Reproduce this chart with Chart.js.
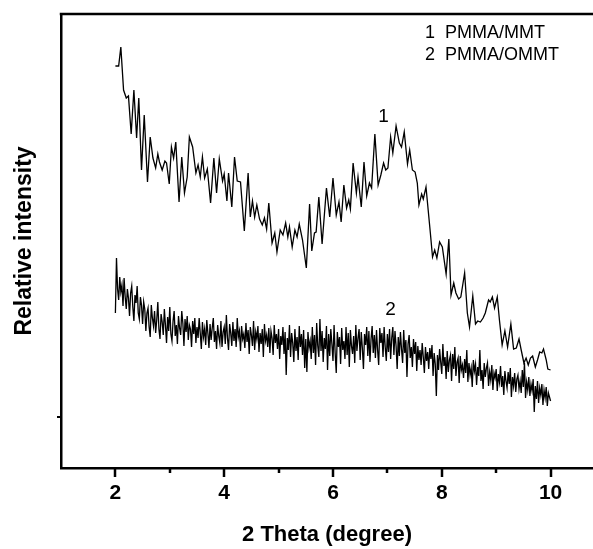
<!DOCTYPE html>
<html>
<head>
<meta charset="utf-8">
<title>XRD PMMA/MMT</title>
<script src="https://cdn.jsdelivr.net/npm/chart.js@4.4.1/dist/chart.umd.min.js"></script>
<style>
  html, body { margin: 0; padding: 0; background: #fff; }
  #wrap { width: 593px; height: 549px; }
</style>
</head>
<body>
<div id="wrap"><canvas id="xrdChart" width="593" height="549"></canvas></div>
<script>
// curve 1 : PMMA/MMT (2 theta, a.u.)
const mmtTheta = [
  2.00, 2.06, 2.10, 2.15, 2.20, 2.24, 2.29, 2.34, 2.39, 2.43, 2.48, 2.53, 2.59, 2.64, 2.69, 2.74, 2.78, 2.81, 2.86, 2.91,
  2.94, 2.99, 3.03, 3.07, 3.11, 3.17, 3.22, 3.27, 3.32, 3.36, 3.42, 3.48, 3.52, 3.56, 3.60, 3.64, 3.69, 3.75, 3.81, 3.86,
  3.91, 3.97, 4.00, 4.05, 4.08, 4.14, 4.19, 4.24, 4.30, 4.37, 4.44, 4.48, 4.52, 4.56, 4.60, 4.65, 4.70, 4.74, 4.78, 4.82,
  4.88, 4.93, 4.97, 5.03, 5.08, 5.13, 5.17, 5.20, 5.25, 5.30, 5.34, 5.38, 5.44, 5.51, 5.57, 5.61, 5.66, 5.69, 5.74, 5.80,
  5.88, 5.94, 6.00, 6.06, 6.11, 6.15, 6.20, 6.25, 6.29, 6.32, 6.37, 6.43, 6.46, 6.52, 6.57, 6.62, 6.67, 6.71, 6.77, 6.83,
  6.88, 6.93, 6.97, 7.01, 7.06, 7.10, 7.16, 7.22, 7.26, 7.31, 7.37, 7.41, 7.46, 7.51, 7.55, 7.58, 7.63, 7.66, 7.71, 7.75,
  7.79, 7.83, 7.87, 7.91, 7.96, 8.01, 8.08, 8.13, 8.17, 8.22, 8.26, 8.31, 8.35, 8.42, 8.47, 8.51, 8.57, 8.62, 8.66, 8.71,
  8.76, 8.80, 8.86, 8.89, 8.93, 8.97, 9.02, 9.06, 9.11, 9.16, 9.21, 9.27, 9.32, 9.37, 9.42, 9.46, 9.51, 9.55, 9.59, 9.63,
  9.67, 9.72, 9.76, 9.80, 9.84, 9.87, 9.92, 9.95, 10.00
];
const mmtIntensity = [
  351, 351, 370, 327, 319, 321, 283, 327, 279, 319, 247, 302, 235, 280, 259, 249, 263, 255, 247, 256,
  254, 233, 270, 259, 275, 215, 260, 224, 240, 280, 270, 244, 252, 240, 260, 239, 248, 214, 259, 224,
  258, 236, 243, 216, 244, 210, 260, 236, 235, 186, 244, 200, 216, 200, 212, 198, 192, 199, 188, 214,
  174, 184, 165, 187, 182, 194, 180, 190, 170, 187, 180, 193, 177, 149, 213, 166, 184, 185, 220, 173,
  229, 200, 239, 202, 215, 195, 232, 209, 217, 208, 254, 224, 240, 210, 255, 221, 234, 229, 283, 232,
  242, 254, 247, 249, 280, 264, 291, 274, 270, 285, 253, 267, 247, 245, 234, 212, 223, 218, 230, 207,
  184, 160, 167, 159, 175, 170, 143, 178, 122, 134, 124, 118, 120, 144, 104, 90, 121, 93, 96, 95,
  99, 104, 117, 115, 120, 109, 120, 97, 72, 86, 70, 93, 68, 69, 78, 67, 54, 59, 52, 59,
  61, 50, 57, 65, 64, 68, 57, 48, 47
];

// curve 2 : PMMA/OMMT, scan from 2 to 10 deg, step 0.02 deg
const ommtStart = 2;
const ommtStep = 0.02;
const ommtIntensity = [
  104, 159, 128, 117, 140, 125, 132, 111, 139, 120,
  108, 128, 119, 101, 124, 131, 110, 96, 122, 114,
  131, 104, 98, 120, 112, 93, 115, 108, 86, 104,
  109, 90, 80, 112, 99, 91, 106, 84, 97, 115,
  88, 78, 103, 95, 82, 108, 92, 74, 100, 86,
  110, 83, 76, 96, 106, 81, 92, 73, 101, 89,
  82, 106, 94, 71, 98, 85, 101, 77, 92, 88,
  70, 96, 83, 99, 74, 90, 79, 99, 84, 68,
  95, 80, 88, 72, 97, 84, 69, 93, 77, 89,
  99, 75, 86, 68, 92, 81, 74, 96, 70, 85,
  90, 73, 102, 79, 67, 93, 84, 71, 95, 76,
  88, 70, 99, 80, 86, 66, 91, 78, 83, 69,
  94, 75, 87, 63, 90, 82, 71, 96, 67, 85,
  78, 91, 65, 84, 73, 88, 60, 93, 76, 82,
  70, 89, 64, 86, 79, 62, 92, 74, 83, 68,
  88, 58, 81, 72, 90, 63, 85, 42, 79, 67,
  92, 60, 84, 74, 55, 88, 66, 80, 57, 91,
  70, 83, 62, 87, 49, 78, 45, 85, 69, 76,
  58, 90, 64, 82, 52, 94, 71, 60, 98, 66,
  86, 55, 79, 68, 91, 47, 83, 61, 88, 73,
  56, 92, 64, 44, 85, 70, 80, 53, 89, 67,
  76, 58, 90, 62, 84, 50, 87, 71, 63, 81,
  54, 92, 66, 79, 88, 57, 85, 69, 48, 83,
  72, 90, 61, 86, 55, 78, 91, 64, 82, 59,
  87, 67, 52, 89, 74, 84, 60, 90, 70, 56,
  83, 65, 88, 58, 79, 90, 62, 86, 71, 48,
  80, 61, 85, 68, 54, 87, 64, 77, 40, 73,
  82, 59, 70, 50, 78, 63, 75, 46, 71, 57,
  67, 52, 74, 60, 44, 70, 56, 65, 48, 69,
  58, 72, 41, 64, 53, 21, 62, 47, 68, 55,
  43, 73, 51, 60, 38, 66, 45, 57, 62, 36,
  63, 48, 70, 41, 55, 59, 34, 61, 47, 52,
  39, 58, 44, 67, 35, 54, 42, 49, 30, 57,
  46, 53, 32, 50, 41, 67, 36, 47, 28, 54,
  40, 49, 54, 31, 45, 37, 52, 27, 44, 39,
  48, 26, 43, 35, 51, 30, 41, 22, 46, 36,
  29, 45, 33, 49, 20, 40, 31, 44, 25, 38,
  42, 28, 36, 24, 47, 30, 54, 19, 35, 27,
  40, 21, 33, 26, 38, 5, 31, 18, 36, 14,
  29, 22, 33, 12, 27, 19, 30, 11, 24, 20,
  16
];

const xTickLabels = [2, 4, 6, 8, 10];
const xMinorTicks = [3, 5, 7, 9];
const yTicks = [0];
const legendLines = ["1  PMMA/MMT", "2  PMMA/OMMT"];
const curveTags = [
  { text: "1", x: 6.93, y: 300 },
  { text: "2", x: 7.06, y: 107 }
];

const FONT = "'Liberation Sans', Arial, sans-serif";

const mmtPoints = mmtTheta.map((t, i) => ({ x: t, y: mmtIntensity[i] }));
const ommtPoints = ommtIntensity.map((v, i) => ({ x: +(ommtStart + i * ommtStep).toFixed(2), y: v }));

// frame top line, tick marks, legend text and curve numbers
const decor = {
  id: 'decor',
  afterDraw(chart) {
    const { ctx, chartArea: a, scales } = chart;
    const x = scales.x, y = scales.y;
    ctx.save();
    ctx.strokeStyle = '#000';
    ctx.lineWidth = 2.5;
    ctx.beginPath();
    ctx.moveTo(a.left - 1.25, a.top);
    ctx.lineTo(a.right, a.top);
    ctx.stroke();

    xTickLabels.forEach(v => {
      const px = Math.round(x.getPixelForValue(v));
      ctx.beginPath(); ctx.moveTo(px, a.bottom); ctx.lineTo(px, a.bottom + 9); ctx.stroke();
    });
    xMinorTicks.forEach(v => {
      const px = Math.round(x.getPixelForValue(v));
      ctx.beginPath(); ctx.moveTo(px, a.bottom); ctx.lineTo(px, a.bottom + 5); ctx.stroke();
    });
    ctx.lineWidth = 2;
    yTicks.forEach(v => {
      const py = Math.round(y.getPixelForValue(v));
      ctx.beginPath(); ctx.moveTo(a.left, py); ctx.lineTo(a.left - 4, py); ctx.stroke();
    });

    ctx.fillStyle = '#000';
    ctx.textBaseline = 'middle';
    ctx.textAlign = 'left';
    ctx.font = "18px " + FONT;
    legendLines.forEach((t, i) => {
      ctx.fillText(t, a.left + 364, a.top + 19 + i * 22);
    });
    ctx.textAlign = 'center';
    ctx.font = "19px " + FONT;
    curveTags.forEach(c => {
      ctx.fillText(c.text, x.getPixelForValue(c.x), y.getPixelForValue(c.y));
    });
    ctx.restore();
  }
};

new Chart(document.getElementById('xrdChart').getContext('2d'), {
  type: 'line',
  data: {
    datasets: [
      { label: 'PMMA/MMT', data: mmtPoints, borderColor: '#000', borderWidth: 1.3, pointRadius: 0, tension: 0, fill: false },
      { label: 'PMMA/OMMT', data: ommtPoints, borderColor: '#000', borderWidth: 1.3, pointRadius: 0, tension: 0, fill: false }
    ]
  },
  options: {
    responsive: false,
    animation: false,
    devicePixelRatio: 1,
    layout: { padding: { top: 14, left: 0, right: 0, bottom: 0 } },
    plugins: { legend: { display: false }, tooltip: { enabled: false } },
    scales: {
      x: {
        type: 'linear',
        min: 1,
        max: 10.78,
        grid: { display: false, drawTicks: false },
        border: { display: true, color: '#000', width: 2.5 },
        afterBuildTicks: s => { s.ticks = xTickLabels.map(v => ({ value: v })); },
        afterFit: s => { s.height = 81; },
        ticks: { color: '#000', padding: 13, autoSkip: false, maxRotation: 0, font: { family: FONT, size: 21, weight: 'bold' } },
        title: { display: true, text: '2 Theta (degree)', color: '#000', padding: { top: 0, bottom: 1 }, font: { family: FONT, size: 22, weight: 'bold' } }
      },
      y: {
        min: -51,
        max: 403,
        grid: { display: false, drawTicks: false },
        border: { display: true, color: '#000', width: 2.5 },
        ticks: { display: false },
        afterFit: s => { s.width = 61; },
        title: { display: true, text: 'Relative intensity', color: '#000', padding: { top: 11, bottom: 0 }, font: { family: FONT, size: 23, weight: 'bold' } }
      }
    }
  },
  plugins: [decor]
});
</script>
</body>
</html>
